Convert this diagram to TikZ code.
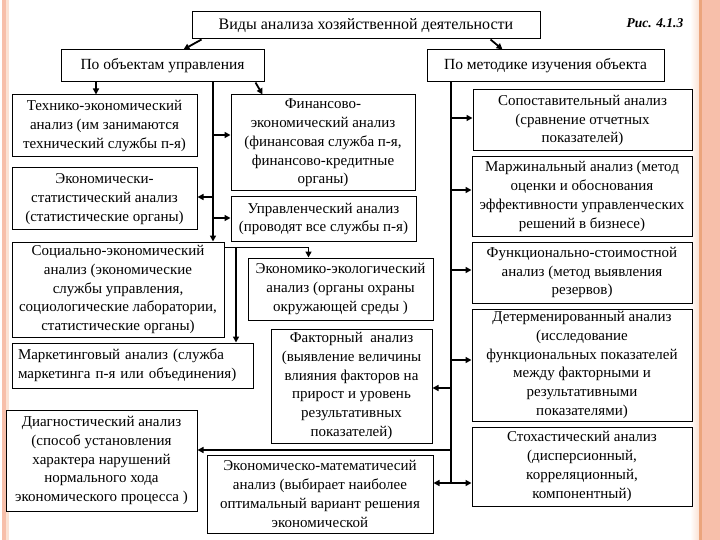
\documentclass[tikz,border=0pt]{standalone}
\usepackage{fontspec}
\setmainfont{Liberation Serif}
\usetikzlibrary{arrows.meta,calc}
\definecolor{salmon}{HTML}{F7BFAA}
\definecolor{peach}{HTML}{FBE2D4}
\definecolor{orangeline}{HTML}{EBA57C}
\begin{document}
\begin{tikzpicture}[x=1pt,y=-1pt,
  box/.style={draw=black, line width=1pt, align=center, inner sep=0pt, fill=white,
    font=\fontsize{15}{18.8}\selectfont},
  conn/.style={line width=1.8pt},
  arr/.style={conn, -{Triangle[length=6pt,width=6pt]}}]
\useasboundingbox (0,0) rectangle (720,540);
\fill[white] (0,0) rectangle (720,540);
% side borders
\fill[salmon] (1.5,0) rectangle (6,540);
\fill[peach] (6,0) rectangle (9,540);
\shade[left color=white, right color=peach] (690,0) rectangle (699,540);
\fill[orangeline] (699,0) rectangle (702,540);
\fill[salmon] (702,0) rectangle (720,540);

% header
\node[box, minimum width=348pt, minimum height=27pt, font=\fontsize{16}{19}\selectfont] (top) at (366,25.5)
  {Виды анализа хозяйственной деятельности};
\node[font=\fontsize{13.5}{15}\selectfont\bfseries\itshape] (fig) at (655,23) {Рис. 4.1.3};
\node[box, minimum width=203pt, minimum height=32pt, font=\fontsize{15.5}{19}\selectfont] (obj) at (162.5,66) {По объектам управления};
\node[box, minimum width=237pt, minimum height=32pt, font=\fontsize{15.5}{19}\selectfont] (meth) at (545.5,66) {По методике изучения объекта};

% left column
\node[box, minimum width=185pt, minimum height=62pt] (tech) at (104.5,126)
  {Технико-экономический\\анализ (им занимаются\\технический службы п-я)};
\node[box, minimum width=185pt, minimum height=62pt] (stat) at (104.5,199)
  {Экономически-\\статистический анализ\\(статистические органы)};
\node[box, minimum width=212pt, minimum height=95pt] (soc) at (118,289.5)
  {Социально-экономический\\анализ (экономические\\службы управления,\\социологические лаборатории,\\статистические органы)};
\node[box, minimum width=241pt, minimum height=45pt, align=left, text width=229pt] (mark) at (132.5,365.5)
  {Маркетинговый анализ (служба\\маркетинга п-я или объединения)};
\node[box, minimum width=191pt, minimum height=101pt] (diag) at (101.5,460.5)
  {Диагностический анализ\\(способ установления\\характера нарушений\\нормального хода\\экономического процесса )};

% middle column
\node[box, minimum width=184pt, minimum height=96pt] (fin) at (323,143)
  {Финансово-\\экономический анализ\\(финансовая служба п-я,\\финансово-кредитные\\органы)};
\node[box, minimum width=185pt, minimum height=44pt] (upr) at (323.5,219)
  {Управленческий анализ\\(проводят все службы п-я)};
\node[box, minimum width=185pt, minimum height=62pt] (ekol) at (340.5,289)
  {Экономико-экологический\\анализ (органы охраны\\окружающей среды )};
\node[box, minimum width=161pt, minimum height=114pt] (fakt) at (351.5,386)
  {Факторный\ \ анализ\\(выявление величины\\влияния факторов на\\прирост и уровень\\результативных\\показателей)};
\node[box, minimum width=226pt, minimum height=78pt] (mat) at (320,494)
  {Экономическо-математичесий\\анализ (выбирает наиболее\\оптимальный вариант решения\\экономической};

% right column
\node[box, minimum width=219pt, minimum height=61pt] (sop) at (582.5,120.5)
  {Сопоставительный анализ\\(сравнение отчетных\\показателей)};
\node[box, minimum width=220pt, minimum height=79pt] (marzh) at (582,196.5)
  {Маржинальный анализ (метод\\оценки и обоснования\\эффективности управленческих\\решений в бизнесе)};
\node[box, minimum width=220pt, minimum height=61pt] (func) at (582,272.5)
  {Функционально-стоимостной\\анализ (метод выявления\\резервов)};
\node[box, minimum width=220pt, minimum height=112pt] (det) at (582,365)
  {Детерменированный анализ\\(исследование\\функциональных показателей\\между факторными и\\результативными\\показателями)};
\node[box, minimum width=220pt, minimum height=79pt] (stoh) at (582,466.5)
  {Стохастический анализ\\(дисперсионный,\\корреляционный,\\компонентный)};

% trunk coordinates
\coordinate (LT) at (213,0);
\coordinate (MT) at (236,0);
\coordinate (RT) at (451,0);
\coordinate (TT) at (96,0);

% header connectors
\draw[arr] ([xshift=10pt]top.south west) -- ([xshift=-81pt]obj.north east);
\draw[arr] ([xshift=-50pt]top.south east) -- ([xshift=76pt]meth.north west);

% left side
\draw[arr] (obj.south -| TT) -- (tech.north -| TT);
\draw[arr] ([xshift=-9pt]obj.south east) -- ([xshift=32pt]fin.north west);
\draw[arr] (obj.south -| LT) -- (soc.north -| LT);
\coordinate (l1) at (213,135);
\coordinate (l2) at (213,197);
\coordinate (l3) at (213,218);
\draw[arr] (l1) -- (l1 -| fin.west);
\draw[arr] (l2) -- (l2 -| stat.east);
\draw[arr] (l3) -- (l3 -| upr.west);
\coordinate (s1) at ([yshift=-6pt]soc.north east);
\draw[arr] (s1) -| ([xshift=61pt]ekol.north west);
\draw[arr] (s1 -| MT) -- (mark.north -| MT);

% right trunk
\coordinate (r1) at (451,118);
\coordinate (r2) at (451,190);
\coordinate (r3) at (451,270);
\coordinate (r4) at (451,360);
\coordinate (r5) at (451,483);
\coordinate (q1) at (451,388);
\coordinate (q2) at (451,450);
\draw[conn] (meth.south -| RT) -- (r5);
\draw[arr] (r1) -- (r1 -| sop.west);
\draw[arr] (r2) -- (r2 -| marzh.west);
\draw[arr] (r3) -- (r3 -| func.west);
\draw[arr] (r4) -- (r4 -| det.west);
\draw[arr] (r5) -- (r5 -| stoh.west);
\draw[arr] (q1) -- (q1 -| fakt.east);
\draw[arr] (q2) -- (q2 -| diag.east);
\draw[arr] (r5) -- (r5 -| mat.east);
\end{tikzpicture}
\end{document}
